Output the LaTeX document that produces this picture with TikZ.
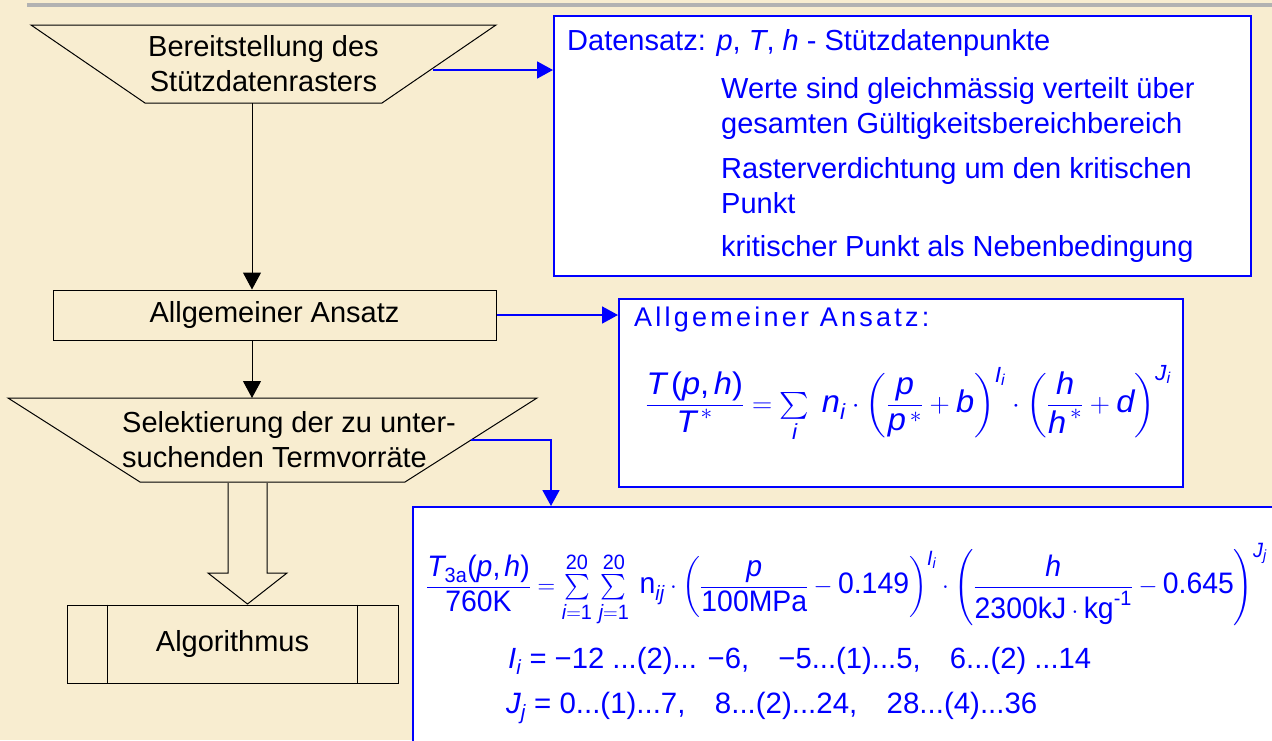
\documentclass[tikz,border=0pt]{standalone}
\usepackage{fontspec}
\setmainfont{Liberation Sans}
\usepackage{amsmath}
\usepackage{graphicx}
\usetikzlibrary{arrows.meta, positioning}

\definecolor{parchment}{RGB}{248,237,208}
\definecolor{pptblue}{RGB}{0,0,255}
\newcommand{\tv}[1]{\text{\itshape #1}}
\newcommand{\tu}[1]{\text{#1}}

\begin{document}
\begin{tikzpicture}[x=1pt, y=-1pt,
    txt/.style={font=\fontsize{29}{35}\selectfont, inner sep=0pt},
    btxt/.style={txt, text=pptblue},
    manual/.style={draw=black, line width=1pt},
    proc/.style={rectangle, draw=black, line width=1pt, txt},
    info/.style={rectangle, draw=pptblue, line width=1.5pt, fill=white, inner sep=0pt},
    line/.style={draw, line width=1pt, -{Triangle[width=18pt,length=17pt]}},
    bline/.style={draw=pptblue, line width=1.8pt, -{Triangle[width=17pt,length=16pt]}}]

    \clip (0,0) rectangle (1272,740);
    \fill[parchment] (0,0) rectangle (1272,740);
    \draw[gray!60, line width=4pt] (27,5) -- (1272,5);

    % linke Spalte
    \coordinate (bereitunten) at (252,103);
    \coordinate (bereitrechts) at (433,70);
    \draw [manual] (31,25) -- (496,25) -- (382,103) -- (145,103) -- cycle;
    \node [txt, align=center] (bereit) at (263.5,64) {Bereitstellung des\\Stützdatenrasters};
    \node [proc, minimum width=443pt, minimum height=50pt] (ansatz) at (274.5,315) {Allgemeiner Ansatz};
    \coordinate (selectoben) at (252,398);
    \coordinate (selectrechts) at (471,440);
    \draw [manual] (8,398) -- (537,398) -- (405,482) -- (140,482) -- cycle;
    \node [txt, align=left, anchor=west] (select) at (122,440) {Selektierung der zu unter-\\suchenden Termvorräte};
    \node [proc, minimum width=331pt, minimum height=78pt] (algo) at (232.5,644) {Algorithmus};
    \draw [line width=1pt] ([xshift=41pt]algo.north west) -- ([xshift=41pt]algo.south west);
    \draw [line width=1pt] ([xshift=-41pt]algo.north east) -- ([xshift=-41pt]algo.south east);

    % Datensatz
    \node [info, minimum width=697pt, minimum height=260pt, anchor=north west] (daten) at (553,15) {};
    \node [btxt, anchor=base west] (d0) at (567,50) {Datensatz: \textit{p}, \textit{T}, \textit{h} - Stützdatenpunkte};
    \node [btxt, anchor=base west] (d1) at (721,98) {Werte sind gleichmässig verteilt über};
    \node [btxt, anchor=base west] (d2) at (721,133) {gesamten Gültigkeitsbereichbereich};
    \node [btxt, anchor=base west] (d3) at (721,178) {Rasterverdichtung um den kritischen};
    \node [btxt, anchor=base west] (d4) at (721,213) {Punkt};
    \node [btxt, anchor=base west] (d5) at (721,256) {kritischer Punkt als Nebenbedingung};

    % allgemeiner Ansatz
    \node [info, minimum width=564pt, minimum height=188pt, anchor=north west] (allg) at (618,298) {};
    \node [btxt, anchor=base west, font=\fontsize{27}{32}\selectfont\addfontfeature{LetterSpace=12}] (allgtitle) at (634,326) {Allgemeiner Ansatz:};
    \node [btxt, anchor=north west] (allgform) at (645,365) {\resizebox*{526pt}{77pt}{$\displaystyle
        \frac{\tv{T}\,\tu{(}\tv{p}\tu{,}\,\tv{h}\tu{)}}{\tv{T}^{\,*}}
        = {\textstyle\sum\limits_{\tv{i}}}\;\, \tv{n}_{\tv{i}} \cdot
        \left(\frac{\tv{p}}{\tv{p}^{\,*}} + \tv{b}\right)^{\tv{I}_{\tv{i}}} \cdot
        \left(\frac{\tv{h}}{\tv{h}^{\,*}} + \tv{d}\right)^{\tv{J}_{\tv{i}}}$}};

    % Termvorrat
    \node [info, minimum width=900pt, minimum height=300pt, anchor=north west] (term) at (412,506) {};
    \node [btxt, anchor=north west] (termform) at (426,543) {\resizebox*{841pt}{83pt}{$\displaystyle
        \frac{\tv{T}_{\tu{3a}}\tu{(}\tv{p}\tu{,}\,\tv{h}\tu{)}}{\tu{760K}}
        = {\textstyle\sum\limits_{\tv{i}=\tu{1}}^{\tu{20}}}\;{\textstyle\sum\limits_{\tv{j}=\tu{1}}^{\tu{20}}}\;\, \tu{n}_{\tv{ij}} \cdot
        \left(\frac{\tv{p}}{\tu{100MPa}} - \tu{0.149}\right)^{\tv{I}_{\tv{i}}} \cdot
        \left(\frac{\tv{h}}{\tu{2300kJ}\cdot\tu{kg}^{\tu{-1}}} - \tu{0.645}\right)^{\tv{J}_{\tv{j}}}$}};
    \node [btxt, anchor=base west] (termI) at (508,668) {\resizebox{583pt}{!}{$\tv{I}_{\tv{i}}$
        = −12 ...(2)... −6,\quad −5...(1)...5,\quad 6...(2) ...14}};
    \node [btxt, anchor=base west] (termJ) at (506,713) {\resizebox{531pt}{!}{$\tv{J}_{\tv{j}}$
        = 0...(1)...7,\quad 8...(2)...24,\quad 28...(4)...36}};

    % Verbindungen
    \path [line] (bereitunten) -- (ansatz.north -| bereitunten);
    \path [line] (ansatz.south -| selectoben) -- (selectoben);
    \path [bline] (bereitrechts) -- (bereitrechts -| daten.west);
    \path [bline] (ansatz.east) -- (ansatz.east -| allg.west);
    \path [bline] (selectrechts) -| ([xshift=139pt]term.north west);
    \draw [line width=1pt] (228,483) -- (228,573) -- (208,573) -- (247.5,604) -- (287,573) -- (267,573) -- (267,483);
\end{tikzpicture}
\end{document}
